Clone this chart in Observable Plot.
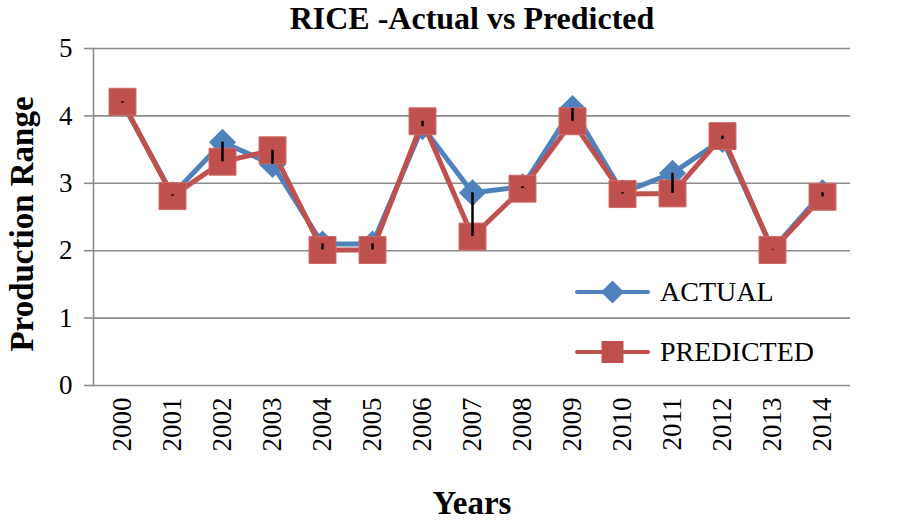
<!DOCTYPE html>
<html>
<head>
<meta charset="utf-8">
<script src="https://cdn.jsdelivr.net/npm/d3@7"></script>
<script src="https://cdn.jsdelivr.net/npm/@observablehq/plot@0.6"></script>
<style>
  body { margin: 0; background: white; }
  #wrap { position: relative; width: 898px; height: 523px; font-family: "Liberation Serif", "Times New Roman", serif; }
  .leg { position: absolute; left: 575px; display: flex; align-items: center; font-size: 28px; color: black; }
  .leg svg { margin-right: 10px; }
</style>
</head>
<body>
<div id="wrap"></div>
<script>
const years = ["2000","2001","2002","2003","2004","2005","2006","2007","2008","2009","2010","2011","2012","2013","2014"];
const actual = [4.19, 2.83, 3.61, 3.28, 2.10, 2.10, 3.84, 2.86, 2.95, 4.11, 2.86, 3.15, 3.65, 2.02, 2.86];
const predicted = [4.21, 2.81, 3.32, 3.49, 2.01, 2.01, 3.92, 2.21, 2.92, 3.92, 2.84, 2.85, 3.70, 2.01, 2.80];
const yTicks = [0, 1, 2, 3, 4, 5];
const seriesNames = ["ACTUAL", "PREDICTED"];
const colors = ["#4F81BD", "#C0504D"];

const rows = years.map((year, i) => ({year, actual: actual[i], predicted: predicted[i]}));
const grid = "#8c8c8c";

const chart = Plot.plot({
  width: 898,
  height: 523,
  marginTop: 48,
  marginBottom: 138,
  marginLeft: 93,
  marginRight: 48,
  style: {fontFamily: "'Liberation Serif', 'Times New Roman', serif", background: "white", color: "black"},
  x: {type: "point", domain: years, padding: 0.5, axis: null},
  y: {domain: [0, 5], axis: null},
  marks: [
    Plot.ruleY(yTicks, {stroke: grid, strokeWidth: 1.6}),
    Plot.frame({anchor: "left", stroke: grid, strokeWidth: 1.6}),
    Plot.axisY({ticks: yTicks, tickSize: 9, tickPadding: 12, fontSize: 27, stroke: grid, strokeWidth: 1.6, label: null, tickFormat: d => String(d)}),
    Plot.axisX({tickSize: 0, tickRotate: -90, tickPadding: 12, fontSize: 27, label: null}),
    Plot.line(rows, {x: "year", y: "actual", stroke: colors[0], strokeWidth: 5}),
    Plot.dot(rows, {x: "year", y: "actual", symbol: "diamond2", r: 12.2, fill: colors[0], stroke: "none"}),
    Plot.line(rows, {x: "year", y: "predicted", stroke: colors[1], strokeWidth: 5}),
    Plot.dot(rows, {x: "year", y: "predicted", symbol: "square", r: 15.2, fill: colors[1], stroke: "#cd6b68", strokeWidth: 1}),
    Plot.ruleX(rows, {x: "year", y1: "actual", y2: "predicted", stroke: "black", strokeWidth: 2.5}),
    Plot.text(["RICE -Actual vs Predicted"], {frameAnchor: "top", dy: -30, fontSize: 32, fontWeight: "bold", lineAnchor: "middle"}),
    Plot.text(["Years"], {frameAnchor: "bottom", dy: 118, fontSize: 33, fontWeight: "bold", lineAnchor: "middle"}),
    Plot.text(["Production Range"], {frameAnchor: "left", textAnchor: "middle", dx: -71, dy: 7, rotate: -90, fontSize: 33, fontWeight: "bold", lineAnchor: "middle"})
  ]
});

const wrap = document.getElementById("wrap");
wrap.appendChild(chart);

const legendTops = [292, 352];
seriesNames.forEach((name, i) => {
  const div = document.createElement("div");
  div.className = "leg";
  div.style.top = (legendTops[i] - 20) + "px";
  div.style.height = "40px";
  const sym = i === 0
    ? `<polygon points="37.5,8.5 49,20 37.5,31.5 26,20" fill="${colors[0]}"/>`
    : `<rect x="26.5" y="9" width="22" height="22" fill="${colors[1]}"/>`;
  div.innerHTML = `<svg width="75" height="40"><line x1="2" y1="20" x2="73" y2="20" stroke="${colors[i]}" stroke-width="4" stroke-linecap="round"/>${sym}</svg><span>${name}</span>`;
  wrap.appendChild(div);
});
</script>
</body>
</html>
